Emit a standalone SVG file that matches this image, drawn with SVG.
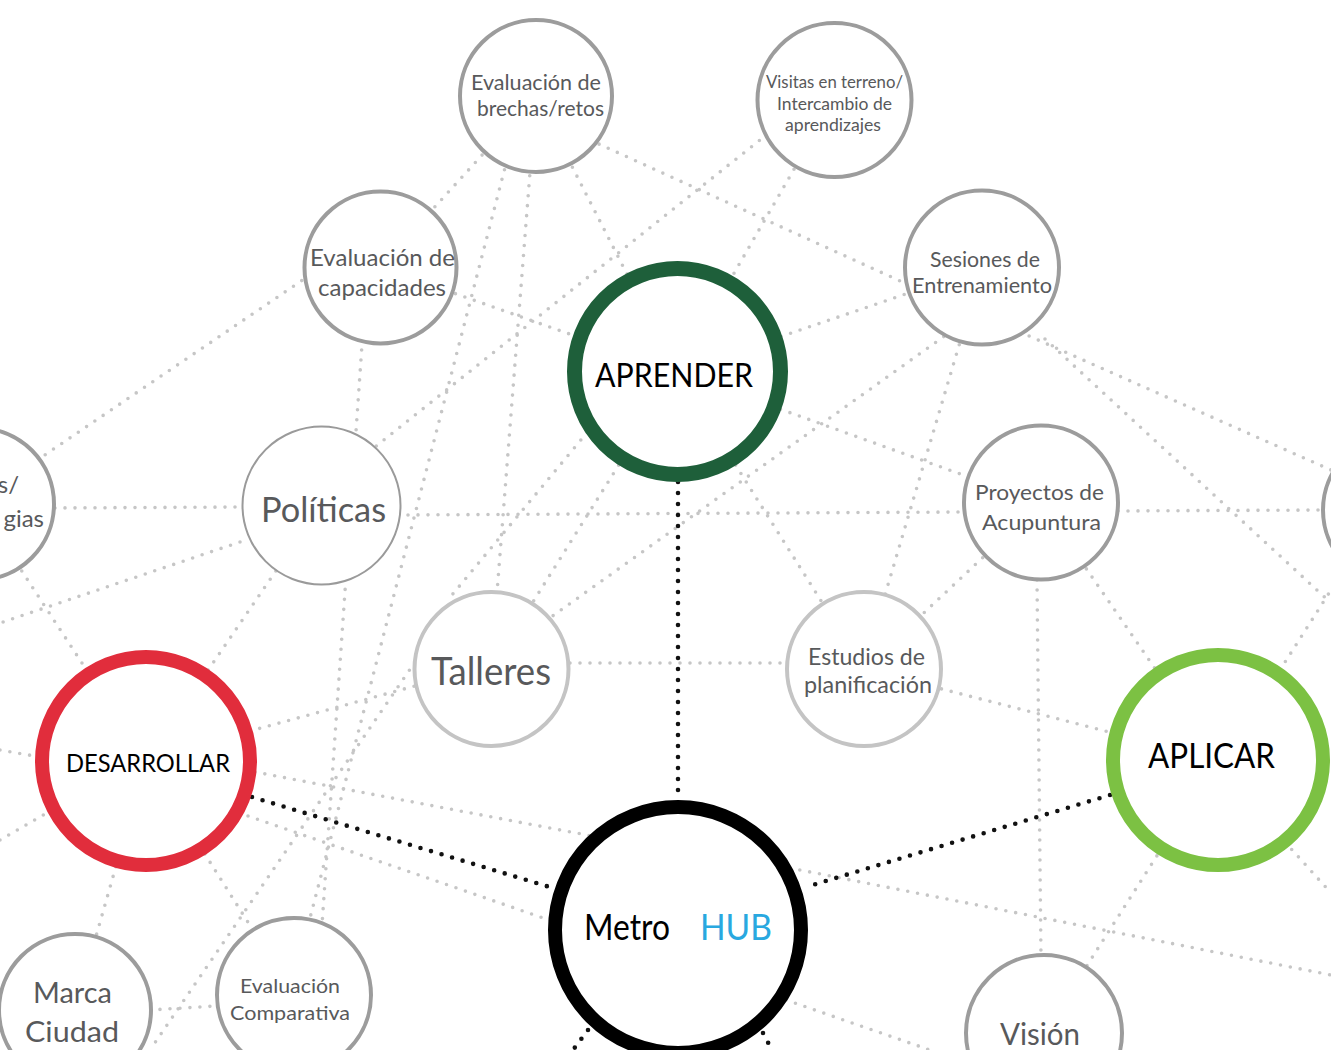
<svg xmlns="http://www.w3.org/2000/svg" width="1331" height="1050" viewBox="0 0 1331 1050">
<defs>
<style>
.g{fill:none;stroke:#c6c6c6;stroke-width:3.6;stroke-linecap:round;stroke-dasharray:0 10}
.k{fill:none;stroke:#111;stroke-width:4.6;stroke-linecap:round;stroke-dasharray:0 11}
.n{fill:#fff;stroke:#9c9c9c;stroke-width:4}
.nl{fill:#fff;stroke:#c4c4c4;stroke-width:4}
.nt{fill:#fff;stroke:#9a9a9a;stroke-width:2}
.t{font-family:Lato,"Open Sans","Liberation Sans",sans-serif;fill:#58595b;text-anchor:middle}
.b{font-family:Lato,"Open Sans","Liberation Sans",sans-serif;fill:#000;text-anchor:middle}
</style>
</defs>
<rect width="1331" height="1050" fill="#fff"/>
<g id="connectors">
<path class="g" d="M536,96L380,267"/>
<path class="g" d="M507,160L310,918"/>
<path class="g" d="M536,96L491,669"/>
<path class="g" d="M536,96L677,372"/>
<path class="g" d="M590,140L920,290"/>
<path class="g" d="M775,128L365,455"/>
<path class="g" d="M834,100L677,372"/>
<path class="g" d="M380,267L677,372"/>
<path class="g" d="M310,275L30,465"/>
<path class="g" d="M363,330L322,925"/>
<path class="g" d="M677,372L982,268"/>
<path class="g" d="M960,325L540,625"/>
<path class="g" d="M982,268L863,669"/>
<path class="g" d="M1020,332L1331,470"/>
<path class="g" d="M1045,339L1331,603"/>
<path class="g" d="M1118,511L1331,510"/>
<path class="g" d="M398,515L965,512"/>
<path class="g" d="M45,508L245,507"/>
<path class="g" d="M1041,503L864,669"/>
<path class="g" d="M1041,503L1218,760"/>
<path class="g" d="M1037,580L1041,958"/>
<path class="g" d="M864,669L1218,760"/>
<path class="g" d="M570,663L786,663"/>
<path class="g" d="M677,372L864,669"/>
<path class="g" d="M677,372L491,669"/>
<path class="g" d="M600,417L452,595"/>
<path class="g" d="M415,662L150,1050"/>
<path class="g" d="M250,731L415,686"/>
<path class="g" d="M255,772L592,836"/>
<path class="g" d="M248,816L552,921"/>
<path class="g" d="M146,761L294,995"/>
<path class="g" d="M146,761L75,1010"/>
<path class="g" d="M321,505L146,761"/>
<path class="g" d="M-22,504L146,761"/>
<path class="g" d="M240,542L0,623"/>
<path class="g" d="M0,750L40,757"/>
<path class="g" d="M0,840L45,814"/>
<path class="g" d="M150,1010L216,1006"/>
<path class="g" d="M786,1000L930,1050"/>
<path class="g" d="M790,868L1331,975"/>
<path class="g" d="M1044,1033L1218,760"/>
<path class="g" d="M1285,842L1331,893"/>
<path class="g" d="M1280,670L1331,590"/>
<path class="g" d="M677,372L1041,503"/>
<path class="k" d="M678,482L678,800"/>
<path class="k" d="M252,797L553,888"/>
<path class="k" d="M1110,795L806,887"/>
<path class="k" d="M588,1030L573,1050"/>
<path class="k" d="M763,1033L772,1050"/>
</g>
<g id="node-brechas">
<circle class="n" cx="536" cy="96" r="76"/>
<text class="t" font-size="21" x="536" y="90" textLength="130" lengthAdjust="spacingAndGlyphs">Evaluación de</text>
<text class="t" font-size="21" x="540.5" y="116" textLength="127" lengthAdjust="spacingAndGlyphs">brechas/retos</text>
</g>
<g id="node-visitas">
<circle class="n" cx="834.5" cy="100" r="77"/>
<text class="t" font-size="16.5" x="834.5" y="88" textLength="137" lengthAdjust="spacingAndGlyphs">Visitas en terreno/</text>
<text class="t" font-size="16.5" x="834.5" y="110" textLength="115" lengthAdjust="spacingAndGlyphs">Intercambio de</text>
<text class="t" font-size="16.5" x="833" y="131" textLength="96" lengthAdjust="spacingAndGlyphs">aprendizajes</text>
</g>
<g id="node-capacidades">
<circle class="n" cx="380.5" cy="267.5" r="76"/>
<text class="t" font-size="23" x="382.5" y="266" textLength="145" lengthAdjust="spacingAndGlyphs">Evaluación de</text>
<text class="t" font-size="23" x="382" y="296" textLength="128" lengthAdjust="spacingAndGlyphs">capacidades</text>
</g>
<g id="node-sesiones">
<circle class="n" cx="982" cy="267.5" r="77"/>
<text class="t" font-size="21" x="985" y="267" textLength="110" lengthAdjust="spacingAndGlyphs">Sesiones de</text>
<text class="t" font-size="21" x="982" y="293" textLength="140" lengthAdjust="spacingAndGlyphs">Entrenamiento</text>
</g>
<g id="node-aprender">
<circle cx="677.5" cy="371.5" r="103" fill="#fff" stroke="#1e5f3a" stroke-width="15"/>
<text class="b" font-size="32" x="674" y="387" textLength="158" lengthAdjust="spacingAndGlyphs">APRENDER</text>
</g>
<g id="node-politicas">
<circle class="nt" cx="321.5" cy="505.5" r="79"/>
<text class="t" font-size="35" x="323.5" y="522" textLength="125" lengthAdjust="spacingAndGlyphs">Políticas</text>
</g>
<g id="node-left">
<circle class="n" cx="-22" cy="504" r="76"/>
<text class="t" font-size="24" x="19" y="493" text-anchor="end" style="text-anchor:end">s/</text>
<text class="t" font-size="24" x="44" y="527" style="text-anchor:end">gias</text>
</g>
<g id="node-acupuntura">
<circle class="n" cx="1041" cy="502.5" r="77"/>
<text class="t" font-size="22" x="1039.5" y="500" textLength="129" lengthAdjust="spacingAndGlyphs">Proyectos de</text>
<text class="t" font-size="22" x="1041.5" y="530" textLength="119" lengthAdjust="spacingAndGlyphs">Acupuntura</text>
</g>
<g id="node-right">
<circle class="n" cx="1399" cy="510" r="76"/>
</g>
<g id="node-talleres">
<circle class="nl" cx="491.5" cy="669" r="77"/>
<text class="t" font-size="39" x="491" y="685" textLength="120" lengthAdjust="spacingAndGlyphs" fill="#606062">Talleres</text>
</g>
<g id="node-estudios">
<circle class="nl" cx="864" cy="669" r="77"/>
<text class="t" font-size="23" x="866.5" y="665" textLength="117" lengthAdjust="spacingAndGlyphs">Estudios de</text>
<text class="t" font-size="23" x="868" y="693" textLength="128" lengthAdjust="spacingAndGlyphs">planificación</text>
</g>
<g id="node-desarrollar">
<circle cx="146" cy="761" r="104" fill="#fff" stroke="#e12d3c" stroke-width="14"/>
<text class="b" font-size="25" x="148" y="772" textLength="164" lengthAdjust="spacingAndGlyphs">DESARROLLAR</text>
</g>
<g id="node-aplicar">
<circle cx="1218" cy="760" r="105" fill="#fff" stroke="#7cc143" stroke-width="14"/>
<text class="b" font-size="35" x="1211.5" y="768" textLength="127" lengthAdjust="spacingAndGlyphs">APLICAR</text>
</g>
<g id="node-metro-hub">
<circle cx="678" cy="930" r="123" fill="#fff" stroke="#000" stroke-width="14"/>
<text class="b" font-size="37" x="627" y="940" textLength="86" lengthAdjust="spacingAndGlyphs">Metro</text>
<text class="b" font-size="37" x="736" y="940" textLength="72" lengthAdjust="spacingAndGlyphs" fill="#29a8e0" style="fill:#29a8e0">HUB</text>
</g>
<g id="node-marca">
<circle class="n" cx="75" cy="1010" r="76"/>
<text class="t" font-size="28" x="72.5" y="1003" textLength="79" lengthAdjust="spacingAndGlyphs">Marca</text>
<text class="t" font-size="28" x="72" y="1042" textLength="94" lengthAdjust="spacingAndGlyphs">Ciudad</text>
</g>
<g id="node-comparativa">
<circle class="n" cx="294" cy="995" r="77"/>
<text class="t" font-size="20" x="290" y="993" textLength="100" lengthAdjust="spacingAndGlyphs">Evaluación</text>
<text class="t" font-size="20" x="290" y="1020" textLength="120" lengthAdjust="spacingAndGlyphs">Comparativa</text>
</g>
<g id="node-vision">
<circle class="n" cx="1044" cy="1033" r="78"/>
<text class="t" font-size="30" x="1040" y="1045" textLength="80" lengthAdjust="spacingAndGlyphs">Visión</text>
</g>
</svg>
